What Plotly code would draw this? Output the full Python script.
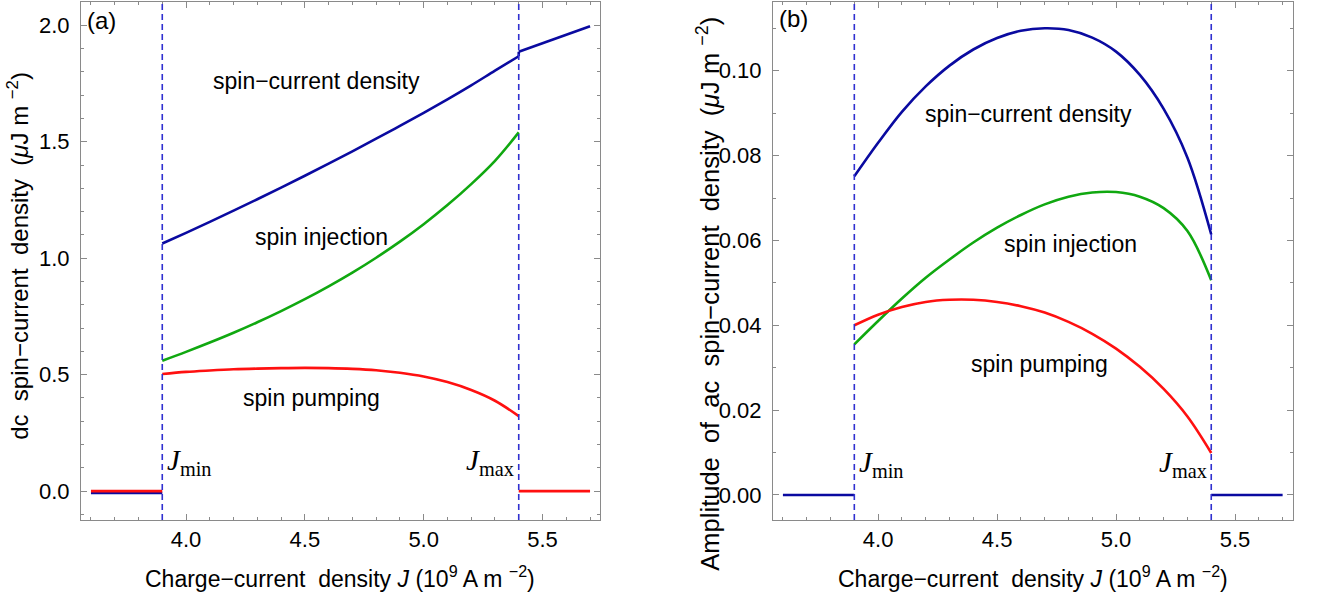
import plotly.graph_objects as go

# ---------------- data ----------------
J_MIN = 3.9
J_MAX = 5.4
J_LEFT = [3.6, 3.9]
J_RIGHT = [5.4, 5.7]
J_MID = [3.9, 4.0, 4.1, 4.2, 4.3, 4.4, 4.5, 4.6, 4.7, 4.8, 4.9, 5.0, 5.1, 5.2, 5.3, 5.4]

# panel (a): dc spin-current density
a_inj = [0.560, 0.598, 0.638, 0.680, 0.725, 0.773, 0.824, 0.879, 0.938, 1.002, 1.071, 1.146, 1.228, 1.318, 1.418, 1.540]
a_pump = [0.503, 0.512, 0.518, 0.523, 0.526, 0.528, 0.529, 0.528, 0.525, 0.519, 0.508, 0.492, 0.468, 0.434, 0.388, 0.322]
a_total = [1.063, 1.109, 1.156, 1.204, 1.253, 1.303, 1.354, 1.406, 1.459, 1.513, 1.568, 1.624, 1.682, 1.742, 1.805, 1.867]
a_total_left = [-0.008, -0.008]
a_pump_left = [0.0, 0.0]
a_pump_right = [0.0, 0.0]
a_total_right = [1.886, 1.996]

# panel (b): amplitude of ac spin-current density
b_total = [0.0751, 0.0830, 0.0903, 0.0963, 0.1012, 0.1050, 0.1077, 0.1094, 0.1100, 0.1096, 0.1078, 0.1045, 0.0990, 0.0910, 0.0795, 0.0614]
b_inj = [0.0355, 0.0410, 0.0463, 0.0512, 0.0555, 0.0595, 0.0630, 0.0660, 0.0685, 0.0703, 0.0713, 0.0714, 0.0703, 0.0676, 0.0622, 0.0506]
b_pump = [0.0400, 0.0425, 0.0443, 0.0455, 0.0460, 0.0460, 0.0455, 0.0445, 0.0430, 0.0408, 0.0380, 0.0345, 0.0302, 0.0250, 0.0185, 0.0099]
b_total_left = [0.0, 0.0]
b_total_right = [0.0, 0.0]

X_TICKS = [4.0, 4.5, 5.0, 5.5]
A_YTICKS = [0.0, 0.5, 1.0, 1.5, 2.0]
B_YTICKS = [0.0, 0.02, 0.04, 0.06, 0.08, 0.10]

BLUE = "#0a0aa0"
GREEN = "#10a810"
RED = "#ff1010"
DASH = "#3030d0"
FRAME = "#8a8a8a"

fig = go.Figure()

def line(x, y, color, xa, ya, shape="spline"):
    fig.add_trace(go.Scatter(x=x, y=y, mode="lines", line=dict(color=color, width=2.6, shape=shape),
                             xaxis=xa, yaxis=ya, showlegend=False, hoverinfo="skip"))

# panel (a)
line(J_LEFT, a_total_left, BLUE, "x", "y", "linear")
line(J_LEFT, a_pump_left, RED, "x", "y", "linear")
line(J_MID, a_inj, GREEN, "x", "y")
line(J_MID, a_pump, RED, "x", "y")
line(J_MID, a_total, BLUE, "x", "y")
line(J_RIGHT, a_pump_right, RED, "x", "y", "linear")
line([J_MAX, J_MAX], [a_total[-1], a_total_right[0]], BLUE, "x", "y", "linear")
line(J_RIGHT, a_total_right, BLUE, "x", "y", "linear")

# panel (b)
line(J_LEFT, b_total_left, BLUE, "x2", "y2", "linear")
line(J_MID, b_total, BLUE, "x2", "y2")
line(J_MID, b_inj, GREEN, "x2", "y2")
line(J_MID, b_pump, RED, "x2", "y2")
line(J_RIGHT, b_total_right, BLUE, "x2", "y2", "linear")

SANS = "Liberation Sans, Arial"
SERIF = "Liberation Serif, Times New Roman"

XR = [3.558, 5.742]
common_x = dict(range=XR, showline=True, linecolor=FRAME, linewidth=1, mirror="ticks",
                ticks="inside", ticklen=6, tickcolor=FRAME, tickvals=X_TICKS,
                ticktext=[f"{v:.1f}" for v in X_TICKS], showgrid=False, zeroline=False,
                tickfont=dict(family=SANS, size=22, color="black"),
                minor=dict(ticks="inside", ticklen=3, tickcolor=FRAME, dtick=0.1, showgrid=False))
common_y = dict(showline=True, linecolor=FRAME, linewidth=1, mirror="ticks",
                ticks="inside", ticklen=6, tickcolor=FRAME, showgrid=False, zeroline=False,
                tickfont=dict(family=SANS, size=22, color="black"), ticklabelstandoff=6,
                domain=[0.1333, 0.9967])

fig.update_layout(
    width=1319, height=600, margin=dict(l=0, r=0, t=0, b=0),
    paper_bgcolor="white", plot_bgcolor="white",
    xaxis=dict(common_x, domain=[0.0614, 0.4549], anchor="y"),
    xaxis2=dict(common_x, domain=[0.586, 0.980], anchor="y2"),
    yaxis=dict(common_y, range=[-0.124, 2.1], anchor="x", tickvals=A_YTICKS,
               ticktext=[f"{v:.1f}" for v in A_YTICKS],
               minor=dict(ticks="inside", ticklen=3, tickcolor=FRAME, dtick=0.1, showgrid=False)),
    yaxis2=dict(common_y, range=[-0.0059, 0.1162], anchor="x2", tickvals=B_YTICKS,
                ticktext=[f"{v:.2f}" for v in B_YTICKS],
                minor=dict(ticks="inside", ticklen=3, tickcolor=FRAME, dtick=0.01, showgrid=False)),
)

# dashed threshold lines
for xa, ya in (("x", "y domain"), ("x2", "y2 domain")):
    for xv in (J_MIN, J_MAX):
        fig.add_shape(type="line", xref=xa, yref=ya, x0=xv, x1=xv, y0=0, y1=1,
                      line=dict(color=DASH, width=1.6, dash="6px,4px"))

def ann(text, x, y, xref, yref, size=23, family=SANS, xanchor="center", yanchor="middle", angle=0):
    fig.add_annotation(text=text, x=x, y=y, xref=xref, yref=yref, showarrow=False,
                       font=dict(family=family, size=size, color="black"),
                       xanchor=xanchor, yanchor=yanchor, textangle=angle)

# panel labels
ann("(a)", 3.575, 2.02, "x", "y", size=24, xanchor="left")
ann("(b)", 3.575, 0.1122, "x2", "y2", size=24, xanchor="left")

# curve labels (a)
ann("spin\u2212current density", 4.55, 1.76, "x", "y")
ann("spin injection", 4.57, 1.09, "x", "y")
ann("spin pumping", 4.53, 0.40, "x", "y")
# curve labels (b)
ann("spin\u2212current density", 4.63, 0.0898, "x2", "y2")
ann("spin injection", 4.81, 0.0592, "x2", "y2")
ann("spin pumping", 4.68, 0.0308, "x2", "y2")

# J_min / J_max labels
ann("<i>J</i><sub>min</sub>", 3.912, 0.125, "x", "y", size=29, family=SERIF, xanchor="left")
ann("<i>J</i><sub>max</sub>", 5.39, 0.125, "x", "y", size=29, family=SERIF, xanchor="right")
ann("<i>J</i><sub>min</sub>", 3.912, 0.0073, "x2", "y2", size=29, family=SERIF, xanchor="left")
ann("<i>J</i><sub>max</sub>", 5.39, 0.0073, "x2", "y2", size=29, family=SERIF, xanchor="right")

# axis titles
xt = "Charge\u2212current\u00a0 density <i>J</i> (10<sup>9</sup> A m <sup>\u22122</sup>)"
ann(xt, (0.0614 + 0.4549) / 2, 0.038, "paper", "paper", size=23)
ann(xt, (0.586 + 0.980) / 2, 0.038, "paper", "paper", size=23)
ann("dc\u00a0 spin\u2212current\u00a0 density\u00a0 (<i>\u03bc</i>J m <sup>\u22122</sup>)",
    18 / 1319, 0.51, "paper", "y domain", size=24, angle=-90)
ann("Amplitude\u00a0 of\u00a0 ac\u00a0 spin\u2212current\u00a0 density\u00a0 (<i>\u03bc</i>J m <sup>\u22122</sup>)",
    708 / 1319, 0.437, "paper", "y2 domain", size=25.5, angle=-90)

fig.write_html("out.html", config={"displayModeBar": False},
               post_script="document.body.style.margin='0';document.body.style.padding='0';")
